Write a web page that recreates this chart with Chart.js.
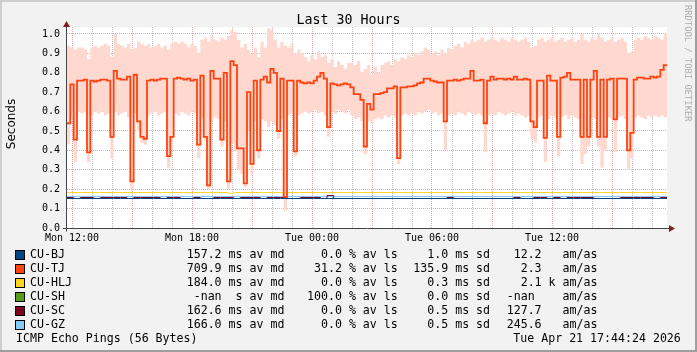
<!DOCTYPE html>
<html>
<head>
<meta charset="utf-8">
<script src="https://cdn.jsdelivr.net/npm/chart.js@4/dist/chart.umd.min.js"></script>
<style>
html,body{margin:0;padding:0;background:#f2f2f2;}
#wrap{position:relative;width:697px;height:352px;overflow:hidden;}
#c{position:absolute;left:0;top:0;}
.t{position:absolute;font-family:"DejaVu Sans Mono",monospace;white-space:pre;color:#000;line-height:1;}
.box{position:absolute;width:8px;height:8px;border:1px solid #000;}
</style>
</head>
<body>
<div id="wrap">
<canvas id="c" width="697" height="352"></canvas>
</div>
<script>
// ---------------- data ----------------
const hoursSpan = 30;                 // Mon 11:45 .. Tue 17:45
const xTickLabels = ["Mon 12:00","Mon 18:00","Tue 00:00","Tue 06:00","Tue 12:00"];
const yTickValues = [0,0.1,0.2,0.3,0.4,0.5,0.6,0.7,0.8,0.9,1.0];

// CU-TJ median (10 min steps)
const tjMedian = [
0.54,0.74,0.455,0.76,0.76,0.765,0.39,0.76,0.755,0.76,
0.765,0.765,0.76,0.47,0.81,0.77,0.765,0.765,0.78,0.24,
0.79,0.55,0.47,0.46,0.76,0.765,0.76,0.765,0.77,0.77,
0.37,0.47,0.77,0.775,0.77,0.765,0.77,0.76,0.765,0.43,
0.785,0.47,0.22,0.81,0.77,0.77,0.455,0.80,0.24,0.86,
0.84,0.41,0.41,0.23,0.70,0.33,0.76,0.40,0.765,0.78,
0.75,0.82,0.80,0.50,0.77,0.16,0.76,0.76,0.395,0.76,
0.75,0.745,0.75,0.745,0.76,0.78,0.80,0.77,0.52,0.745,
0.74,0.735,0.74,0.745,0.74,0.725,0.69,0.69,0.66,0.42,
0.64,0.61,0.69,0.69,0.695,0.70,0.72,0.72,0.73,0.36,
0.725,0.725,0.73,0.73,0.735,0.745,0.75,0.77,0.77,0.76,
0.755,0.75,0.75,0.55,0.76,0.76,0.765,0.76,0.765,0.77,
0.77,0.81,0.76,0.76,0.765,0.54,0.76,0.78,0.765,0.77,
0.77,0.765,0.77,0.765,0.78,0.765,0.765,0.77,0.765,0.55,
0.52,0.76,0.76,0.465,0.785,0.76,0.76,0.47,0.775,0.78,
0.80,0.765,0.765,0.765,0.47,0.765,0.47,0.765,0.81,0.47,
0.765,0.47,0.765,0.77,0.56,0.77,0.77,0.77,0.40,0.49,
0.765,0.775,0.775,0.77,0.77,0.78,0.775,0.78,0.815,0.84
];
// CU-TJ smoke upper edge
const tjHigh = [
0.94,0.93,0.92,0.93,0.93,0.92,0.87,0.93,0.94,0.93,
0.94,0.95,0.94,0.88,1.00,0.95,0.94,0.93,0.95,0.92,
0.93,0.96,0.95,0.94,0.95,0.93,0.94,0.95,0.93,0.94,
0.92,0.95,0.96,0.95,0.96,0.95,0.93,0.95,0.94,0.90,
0.97,0.98,0.96,0.99,0.97,0.96,0.98,0.97,0.99,1.02,
1.01,0.97,0.93,0.95,0.92,0.90,0.93,0.88,0.96,0.93,
1.03,1.02,0.97,0.93,0.96,0.94,0.93,0.95,0.90,0.92,
0.90,0.88,0.86,0.89,0.87,0.91,0.88,0.89,0.85,0.87,
0.83,0.86,0.84,0.82,0.85,0.85,0.84,0.86,0.80,0.82,
0.84,0.79,0.83,0.80,0.84,0.85,0.86,0.84,0.87,0.86,
0.88,0.87,0.89,0.88,0.90,0.89,0.91,0.93,0.92,0.90,
0.91,0.89,0.92,0.90,0.93,0.92,0.94,0.95,0.93,0.96,
0.95,0.97,0.96,0.97,0.98,0.96,0.97,0.98,0.97,0.96,
0.98,0.97,0.96,0.98,0.97,0.96,0.97,0.98,0.96,0.93,
0.94,0.97,0.98,0.96,0.97,0.98,0.96,0.97,0.98,0.96,
0.97,0.98,0.96,0.97,1.00,0.97,0.96,0.98,0.97,1.00,
0.98,0.96,0.97,0.98,0.96,0.97,0.98,0.96,0.90,0.91,
0.97,0.98,0.97,0.99,0.98,0.97,0.99,0.98,0.97,1.00
];
// CU-TJ smoke lower edge
const tjLow = [
0.43,0.58,0.34,0.60,0.59,0.60,0.34,0.58,0.60,0.59,
0.60,0.58,0.59,0.36,0.60,0.58,0.59,0.60,0.57,0.20,
0.59,0.50,0.44,0.43,0.58,0.59,0.60,0.58,0.59,0.60,
0.31,0.45,0.59,0.58,0.60,0.59,0.58,0.60,0.59,0.36,
0.57,0.45,0.20,0.55,0.57,0.56,0.42,0.55,0.20,0.44,
0.40,0.30,0.28,0.21,0.50,0.28,0.55,0.36,0.56,0.55,
0.52,0.55,0.53,0.46,0.56,0.09,0.58,0.59,0.37,0.58,
0.59,0.60,0.59,0.60,0.61,0.59,0.60,0.58,0.47,0.60,
0.59,0.61,0.60,0.59,0.61,0.58,0.56,0.57,0.55,0.38,
0.55,0.54,0.56,0.57,0.56,0.58,0.57,0.58,0.57,0.33,
0.58,0.59,0.58,0.59,0.58,0.60,0.59,0.60,0.61,0.59,
0.60,0.58,0.59,0.40,0.58,0.59,0.58,0.60,0.59,0.58,
0.60,0.59,0.58,0.59,0.58,0.39,0.58,0.59,0.58,0.60,
0.59,0.58,0.59,0.60,0.58,0.59,0.58,0.57,0.58,0.46,
0.44,0.57,0.58,0.34,0.56,0.58,0.57,0.37,0.57,0.58,
0.56,0.58,0.57,0.56,0.33,0.38,0.42,0.57,0.56,0.42,
0.31,0.40,0.57,0.56,0.39,0.57,0.58,0.56,0.30,0.36,
0.57,0.58,0.57,0.56,0.58,0.57,0.58,0.57,0.58,0.57
];
// other hosts (20 min steps)
const bjMedian = [
0.1521,0.1521,0.1521,0.1521,0.1521,0.1521,0.1521,0.1521,0.1521,0.1521,
0.1521,0.1521,0.1521,0.1521,0.1521,0.1521,0.1521,0.1521,0.1521,0.1521,
0.1521,0.1521,0.1521,0.1521,0.1521,0.1521,0.1521,0.1521,0.1521,0.1521,
0.1521,0.1521,0.1521,0.1521,0.1521,0.1521,0.1521,0.1521,0.1521,0.1521,
0.1521,0.1521,0.1521,0.1521,0.1521,0.1521,0.1521,0.1521,0.1521,0.1521,
0.1521,0.1521,0.1521,0.1521,0.1521,0.1521,0.1521,0.1521,0.1521,0.1521,
0.1521,0.1521,0.1521,0.1521,0.1521,0.1521,0.1521,0.1521,0.1521,0.1521,
0.1521,0.1521,0.1521,0.1521,0.1521,0.1521,0.1521,0.1521,0.1521,0.1521,
0.1521,0.1521,0.1521,0.1521,0.1521,0.1521,0.1521,0.1521,0.1521,0.1521
];
const hljMedian = [
0.183,0.183,0.183,0.183,0.183,0.183,0.183,0.183,0.183,0.183,
0.183,0.183,0.183,0.183,0.183,0.183,0.183,0.183,0.183,0.183,
0.183,0.183,0.183,0.183,0.179,0.183,0.183,0.183,0.183,0.183,
0.183,0.183,0.183,0.183,0.183,0.183,0.183,0.183,0.183,0.183,
0.183,0.183,0.183,0.183,0.183,0.183,0.183,0.183,0.183,0.183,
0.183,0.183,0.183,0.183,0.183,0.183,0.183,0.183,0.183,0.183,
0.183,0.183,0.183,0.183,0.183,0.183,0.183,0.183,0.183,0.183,
0.183,0.183,0.183,0.183,0.183,0.183,0.183,0.183,0.183,0.183,
0.183,0.183,0.183,0.183,0.183,0.183,0.183,0.183,0.183,0.183
];
const scMedian = [
0.1572,0.1521,0.1572,0.1572,0.1521,0.1572,0.1572,0.1572,0.1572,0.1521,
0.1572,0.1572,0.1572,0.1572,0.1521,0.1572,0.1572,0.1521,0.1521,0.1572,
0.1521,0.1521,0.1572,0.1572,0.1572,0.1521,0.1572,0.1572,0.1572,0.1521,
0.1572,0.1572,0.1572,0.1521,0.1521,0.1572,0.1572,0.1572,0.1521,0.1675,
0.1521,0.1521,0.1521,0.1521,0.1521,0.1521,0.1521,0.1521,0.1521,0.1521,
0.1521,0.1521,0.1521,0.1521,0.1521,0.1521,0.1521,0.1572,0.1521,0.1521,
0.1521,0.1521,0.1521,0.1521,0.1521,0.1521,0.1521,0.1572,0.1521,0.1521,
0.1572,0.1572,0.1521,0.1572,0.1521,0.1572,0.1572,0.1572,0.1572,0.1521,
0.1521,0.1521,0.1521,0.1572,0.1572,0.1572,0.1572,0.1572,0.1521,0.1572
];
const gzMedian = [
0.1624,0.1624,0.1624,0.1624,0.1624,0.1624,0.1624,0.1624,0.1624,0.1624,
0.1624,0.1624,0.1624,0.1624,0.1624,0.1624,0.1624,0.1624,0.1624,0.1624,
0.1624,0.1624,0.1624,0.1624,0.1624,0.1624,0.1624,0.1624,0.1624,0.1624,
0.1624,0.1624,0.1624,0.1624,0.1624,0.1624,0.1624,0.1624,0.1624,0.1624,
0.1624,0.1624,0.1624,0.1624,0.1624,0.1624,0.1624,0.1624,0.1624,0.1624,
0.1624,0.1624,0.1624,0.1624,0.1624,0.1624,0.1624,0.1624,0.1624,0.1624,
0.1624,0.1624,0.1624,0.1624,0.1624,0.1624,0.1624,0.1624,0.1624,0.1624,
0.1624,0.1624,0.1624,0.1624,0.1624,0.1624,0.1624,0.1624,0.1624,0.1624,
0.1624,0.1624,0.1624,0.1624,0.1624,0.1624,0.1624,0.1624,0.1624,0.1624
];

// legend texts
const hostNames  = ["CU-BJ","CU-TJ","CU-HLJ","CU-SH","CU-SC","CU-GZ"];
const hostColors = ["#004586","#ff420e","#ffd320","#579d1c","#7e0021","#83caff"];
const avgCol  = ["157.2 ms av md","709.9 ms av md","184.0 ms av md"," -nan  s av md","162.6 ms av md","166.0 ms av md"];
const lossCol = ["  0.0 % av ls"," 31.2 % av ls","  0.0 % av ls","100.0 % av ls","  0.0 % av ls","  0.0 % av ls"];
const sdCol   = ["  1.0 ms sd","135.9 ms sd","  0.3 ms sd","  0.0 ms sd","  0.5 ms sd","  0.5 ms sd"];
const amasCol = [" 12.2   am/as","  2.3   am/as","  2.1 k am/as","-nan    am/as","127.7   am/as","245.6   am/as"];
const titleText = "Last 30 Hours";
const yAxisTitle = "Seconds";
const footLeft = "ICMP Echo Pings (56 Bytes)";
const footRight = "Tue Apr 21 17:44:24 2026";
const watermark = "RRDTOOL / TOBI OETIKER";

// ---------------- helpers ----------------
function series(arr){
  const step = hoursSpan / arr.length;
  const pts = arr.map((v,i)=>({x:i*step, y:v}));
  pts.push({x:hoursSpan, y:arr[arr.length-1]});
  return pts;
}
const firstTick = 0.25;
const hourTicks = [];
for (let k=0;k<hoursSpan;k++) hourTicks.push(firstTick+k);

const GRID = 'rgba(143,143,143,0.55)';
const MGRID = 'rgba(222,79,79,0.5)';

const bgPlugin = {
  id:'bg',
  beforeDraw(chart){
    const {ctx, chartArea:a, width:w, height:h} = chart;
    ctx.save();
    ctx.fillStyle='#f2f2f2'; ctx.fillRect(0,0,w,h);
    ctx.fillStyle='#cecece'; ctx.fillRect(0,0,w,2); ctx.fillRect(0,0,2,h);
    ctx.fillStyle='#9e9e9e'; ctx.fillRect(0,h-2,w,2); ctx.fillRect(w-2,0,2,h);
    ctx.fillStyle='#ffffff'; ctx.fillRect(a.left,a.top,a.right-a.left,a.bottom-a.top);
    ctx.restore();
  },
  afterDraw(chart){
    const {ctx, chartArea:a} = chart;
    ctx.save();
    ctx.strokeStyle='#444'; ctx.lineWidth=1;
    ctx.beginPath();
    ctx.moveTo(a.left-0.5, a.bottom+3.5); ctx.lineTo(a.left-0.5, a.top-5);
    ctx.moveTo(a.left-4, a.bottom+0.5); ctx.lineTo(a.right+5, a.bottom+0.5);
    ctx.stroke();
    ctx.fillStyle='#801f1f';
    ctx.beginPath();
    ctx.moveTo(a.left-4, a.top); ctx.lineTo(a.left+3, a.top); ctx.lineTo(a.left-0.5, a.top-6); ctx.closePath(); ctx.fill();
    ctx.beginPath();
    ctx.moveTo(a.right+2, a.bottom-3); ctx.lineTo(a.right+2, a.bottom+4); ctx.lineTo(a.right+8, a.bottom+0.5); ctx.closePath(); ctx.fill();
    ctx.restore();
  }
};

Chart.defaults.font.family = '"DejaVu Sans Mono", monospace';

const lineDs = (label, arr, color, order, width) => ({
  label, data: series(arr), borderColor: color, borderWidth: width,
  stepped: true, pointRadius: 0, fill: false, order
});

new Chart(document.getElementById('c'), {
  type:'line',
  data:{
    datasets:[
      {label:'TJ smoke high', data: series(tjHigh), borderWidth:0, borderColor:'rgba(0,0,0,0)',
       backgroundColor:'#ffd9cf', fill:'+1', stepped:true, pointRadius:0, order:10},
      {label:'TJ smoke low', data: series(tjLow), borderWidth:0, borderColor:'rgba(0,0,0,0)',
       fill:false, stepped:true, pointRadius:0, order:9},
      lineDs('CU-GZ', gzMedian, hostColors[5], 6, 1),
      lineDs('CU-SC', scMedian, hostColors[4], 5, 1),
      lineDs('CU-BJ', bjMedian, hostColors[0], 4, 1),
      lineDs('CU-HLJ', hljMedian, hostColors[2], 3, 1),
      lineDs('CU-TJ', tjMedian, hostColors[1], 1, 1.8)
    ]
  },
  options:{
    responsive:false, animation:false, devicePixelRatio:1,
    layout:{padding:{left:0, top:27, right:30, bottom:0}},
    plugins:{legend:{display:false}, tooltip:{enabled:false}, title:{display:false}},
    scales:{
      x:{
        type:'linear', min:0, max:hoursSpan,
        afterFit(s){ s.height = 124; },
        afterBuildTicks(s){ s.ticks = hourTicks.map(v=>({value:v})); },
        ticks:{
          autoSkip:false, maxRotation:0, minRotation:0, padding:4, color:'#000',
          font:{family:'"DejaVu Sans Mono", monospace', size:10},
          callback(v){ const k=Math.round(v-firstTick); return (k%6===0)? xTickLabels[k/6] : ''; }
        },
        grid:{ drawTicks:false, lineWidth:1,
          color(ctx){ const k=Math.round(ctx.tick.value-firstTick); return (k%3===0)? MGRID : GRID; } },
        border:{display:false, dash:[1,1]}
      },
      y:{
        min:0, max:1.036,
        afterFit(s){ s.width = 67; },
        afterBuildTicks(s){ s.ticks = yTickValues.map(v=>({value:v})); },
        ticks:{ padding:7, color:'#000', font:{family:'"DejaVu Sans Mono", monospace', size:10},
          callback(v){ return Number(v).toFixed(1); } },
        grid:{ drawTicks:false, lineWidth:1,
          color(ctx){ return ctx.tick.value===0 ? 'rgba(0,0,0,0)' : MGRID; } },
        border:{display:false, dash:[1,1]}
      }
    }
  },
  plugins:[bgPlugin]
});

// ---------------- texts ----------------
const wrap = document.getElementById('wrap');
function addText(txt, x, y, size, extra){
  const d = document.createElement('div');
  d.className='t'; d.textContent=txt;
  d.style.left=x+'px'; d.style.top=y+'px'; d.style.fontSize=size+'px';
  if (extra) Object.assign(d.style, extra);
  wrap.appendChild(d); return d;
}
// title
addText(titleText, 0, 12.6, 13.3, {width:'697px', textAlign:'center'});
// y axis title
addText(yAxisTitle, 10.5, 124, 12, {fontFamily:'"DejaVu Sans", sans-serif', transform:'translate(-50%,-50%) rotate(-90deg)'});
// watermark
addText(watermark, 683, 5, 8.8, {writingMode:'vertical-rl', lineHeight:'10px', color:'#adadad'});
// legend
const rowY0 = 255, rowDy = 14, lsz = 11.6;
hostNames.forEach((n,i)=>{
  const cy = rowY0 + i*rowDy;
  const b = document.createElement('div');
  b.className='box'; b.style.left='15px'; b.style.top=(cy-5)+'px'; b.style.background=hostColors[i];
  wrap.appendChild(b);
  addText(n, 30, cy-5.6, lsz);
  addText(avgCol[i], 186.7, cy-5.6, lsz);
  addText(lossCol[i], 307, cy-5.6, lsz);
  addText(sdCol[i], 413.3, cy-5.6, lsz);
  addText(amasCol[i], 506.7, cy-5.6, lsz);
});
addText(footLeft, 16, 339-5.6, lsz);
addText(footRight, 513.3, 339-5.6, lsz);
</script>
</body>
</html>
